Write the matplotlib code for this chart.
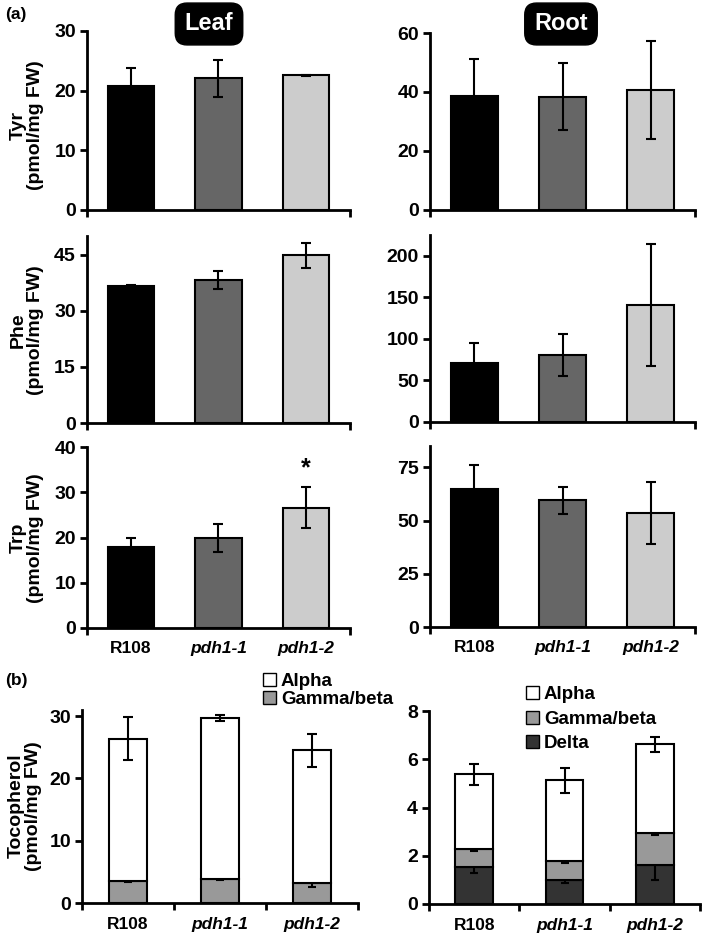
import matplotlib
matplotlib.use("Agg")
import matplotlib.pyplot as plt
from matplotlib.patches import Patch

plt.rcParams['font.family'] = ['Liberation Sans', 'DejaVu Sans']
plt.rcParams['font.weight'] = 'bold'
plt.rcParams['font.size'] = 12

# dados
lines = ["R108", "pdh1-1", "pdh1-2"]
cores = ["#000000", "#666666", "#cccccc"]

tyr_leaf = [20.8, 22.1, 22.6]
tyr_leaf_err = [3.0, 3.1, 0.1]
tyr_root = [38.6, 38.4, 40.7]
tyr_root_err = [12.6, 11.3, 16.6]

phe_leaf = [36.6, 38.2, 44.8]
phe_leaf_err = [0.2, 2.5, 3.3]
phe_root = [71.0, 80.5, 140.6]
phe_root_err = [23.5, 24.8, 73.0]

trp_leaf = [17.8, 19.9, 26.6]
trp_leaf_err = [2.1, 3.0, 4.6]
trp_root = [64.8, 59.5, 53.6]
trp_root_err = [11.4, 6.3, 14.5]

# tocoferol (folha): gamma/beta, alpha
toc_leaf_gamma = [3.6, 3.9, 3.2]
toc_leaf_gamma_err = [0.2, 0.15, 0.6]
toc_leaf_alpha = [22.8, 25.8, 21.3]
toc_leaf_total_err = [3.5, 0.5, 2.7]

# tocoferol (raiz): delta, gamma/beta, alpha
toc_root_delta = [1.55, 1.0, 1.6]
toc_root_delta_err = [0.27, 0.12, 0.6]
toc_root_gamma = [0.75, 0.8, 1.35]
toc_root_gamma_err = [0.1, 0.1, 0.1]
toc_root_alpha = [3.08, 3.32, 3.67]
toc_root_total_err = [0.43, 0.5, 0.31]

W, H = 709, 940
fig = plt.figure(figsize=(W / 100, H / 100), dpi=100)


def eixo(l, t, r, b):
    return fig.add_axes([l / W, 1 - b / H, (r - l) / W, (b - t) / H])


def estilo(ax, ylim, yticks, xticks, labels=False):
    for s in ["top", "right"]:
        ax.spines[s].set_visible(False)
    for s in ["left", "bottom"]:
        ax.spines[s].set_linewidth(2)
    ax.set_xlim(-0.5, 2.5)
    ax.set_ylim(*ylim)
    ax.set_yticks(yticks)
    ax.set_xticks(xticks)
    ax.tick_params(axis='both', direction='out', length=5, width=2, labelsize=14, pad=3)
    ax.set_xticklabels([])
    if labels:
        for i, nome in enumerate(lines):
            st = 'normal' if nome == "R108" else 'italic'
            ax.text(i, -0.07, nome, transform=ax.get_xaxis_transform(), ha='center', va='top',
                    fontsize=12.5, fontweight='bold', style=st)


def barras(ax, vals, errs):
    ax.bar(range(3), vals, width=0.53, color=cores, edgecolor='black', linewidth=1.5, zorder=2)
    ax.errorbar(range(3), vals, yerr=errs, fmt='none', ecolor='black', elinewidth=1.5,
                capsize=3.5, capthick=1.5, zorder=3)


def ylabel(texto, yc, xc=27):
    fig.text(xc / W, 1 - yc / H, texto, rotation=90, ha='center', va='center',
             multialignment='center', fontsize=14, fontweight='bold', linespacing=1.05)


# (a)
ax = eixo(87, 31, 350, 210)
barras(ax, tyr_leaf, tyr_leaf_err)
estilo(ax, (0, 30), [0, 10, 20, 30], [-0.5, 2.5])
ax = eixo(430, 33, 695, 210)
barras(ax, tyr_root, tyr_root_err)
estilo(ax, (0, 60), [0, 20, 40, 60], [-0.5, 2.5])

ax = eixo(87, 236, 350, 423)
barras(ax, phe_leaf, phe_leaf_err)
estilo(ax, (0, 50), [0, 15, 30, 45], [-0.5, 2.5])
ax = eixo(430, 235, 695, 422)
barras(ax, phe_root, phe_root_err)
estilo(ax, (0, 225), [0, 50, 100, 150, 200], [-0.5, 2.5])

ax = eixo(87, 447, 350, 628)
barras(ax, trp_leaf, trp_leaf_err)
estilo(ax, (0, 40), [0, 10, 20, 30, 40], [-0.5, 2.5], labels=True)
ax.text(2, 35.4, "*", ha='center', va='center', fontsize=18, fontweight='bold')
ax = eixo(430, 446, 695, 627)
barras(ax, trp_root, trp_root_err)
estilo(ax, (0, 85), [0, 25, 50, 75], [-0.5, 2.5], labels=True)

ylabel("Tyr\n(pmol/mg FW)", 125)
ylabel("Phe\n(pmol/mg FW)", 330)
ylabel("Trp\n(pmol/mg FW)", 538)
ylabel("Tocopherol\n(pmol/mg FW)", 806, 25)

for txt, xc in [("Leaf", 209), ("Root", 561)]:
    fig.text(xc / W, 1 - 24 / H, txt, ha='center', va='center', color='white', fontsize=17,
             fontweight='bold', bbox=dict(boxstyle='round,pad=0.4,rounding_size=0.5', fc='black', ec='black'))

fig.text(5 / W, 1 - 14 / H, "(a)", ha='left', va='center', fontsize=12.5, fontweight='bold')
fig.text(5 / W, 1 - 680 / H, "(b)", ha='left', va='center', fontsize=12.5, fontweight='bold')

# (b) folha
ax = eixo(82, 710, 358, 903)
x = range(3)
ax.bar(x, toc_leaf_gamma, width=0.42, color='#999999', edgecolor='black', linewidth=1.5, zorder=2)
ax.errorbar(x, toc_leaf_gamma, yerr=toc_leaf_gamma_err, fmt='none', ecolor='black',
            elinewidth=1.5, capsize=3, capthick=1.5, zorder=3)
ax.bar(x, toc_leaf_alpha, bottom=toc_leaf_gamma, width=0.42, color='white', edgecolor='black',
       linewidth=1.5, zorder=4)
tot = [a + g for a, g in zip(toc_leaf_alpha, toc_leaf_gamma)]
ax.errorbar(x, tot, yerr=toc_leaf_total_err, fmt='none', ecolor='black',
            elinewidth=1.5, capsize=3.5, capthick=1.5, zorder=5)
estilo(ax, (0, 31), [0, 10, 20, 30], [-0.5, 0.5, 1.5, 2.5], labels=True)
ax.legend(handles=[Patch(fc='white', ec='black', lw=1), Patch(fc='#999999', ec='black', lw=1)],
          labels=["Alpha", "Gamma/beta"], loc='upper left', bbox_to_anchor=(263 / W, 1 - 673 / H),
          bbox_transform=fig.transFigure, frameon=False, fontsize=13.5, handlelength=0.7,
          handleheight=0.7, handletextpad=0.25, labelspacing=0.05, borderpad=0, borderaxespad=0)

# (b) raiz
ax = eixo(429, 711, 700, 904)
ax.bar(x, toc_root_delta, width=0.42, color='#333333', edgecolor='black', linewidth=1.5, zorder=2)
ax.errorbar(x, toc_root_delta, yerr=toc_root_delta_err, fmt='none', ecolor='black',
            elinewidth=1.5, capsize=3, capthick=1.5, zorder=3)
dg = [d + g for d, g in zip(toc_root_delta, toc_root_gamma)]
ax.bar(x, toc_root_gamma, bottom=toc_root_delta, width=0.42, color='#999999', edgecolor='black',
       linewidth=1.5, zorder=4)
ax.errorbar(x, dg, yerr=toc_root_gamma_err, fmt='none', ecolor='black',
            elinewidth=1.5, capsize=3, capthick=1.5, zorder=5)
ax.bar(x, toc_root_alpha, bottom=dg, width=0.42, color='white', edgecolor='black',
       linewidth=1.5, zorder=6)
tot = [a + b for a, b in zip(toc_root_alpha, dg)]
ax.errorbar(x, tot, yerr=toc_root_total_err, fmt='none', ecolor='black',
            elinewidth=1.5, capsize=3.5, capthick=1.5, zorder=7)
estilo(ax, (0, 8), [0, 2, 4, 6, 8], [-0.5, 0.5, 1.5, 2.5], labels=True)
ax.legend(handles=[Patch(fc='white', ec='black', lw=1), Patch(fc='#999999', ec='black', lw=1),
                   Patch(fc='#333333', ec='black', lw=1)],
          labels=["Alpha", "Gamma/beta", "Delta"], loc='upper left', bbox_to_anchor=(526 / W, 1 - 686 / H),
          bbox_transform=fig.transFigure, frameon=False, fontsize=13.5, handlelength=0.7,
          handleheight=0.7, handletextpad=0.25, labelspacing=0.4, borderpad=0, borderaxespad=0)

fig.savefig("out.png", dpi=100)
